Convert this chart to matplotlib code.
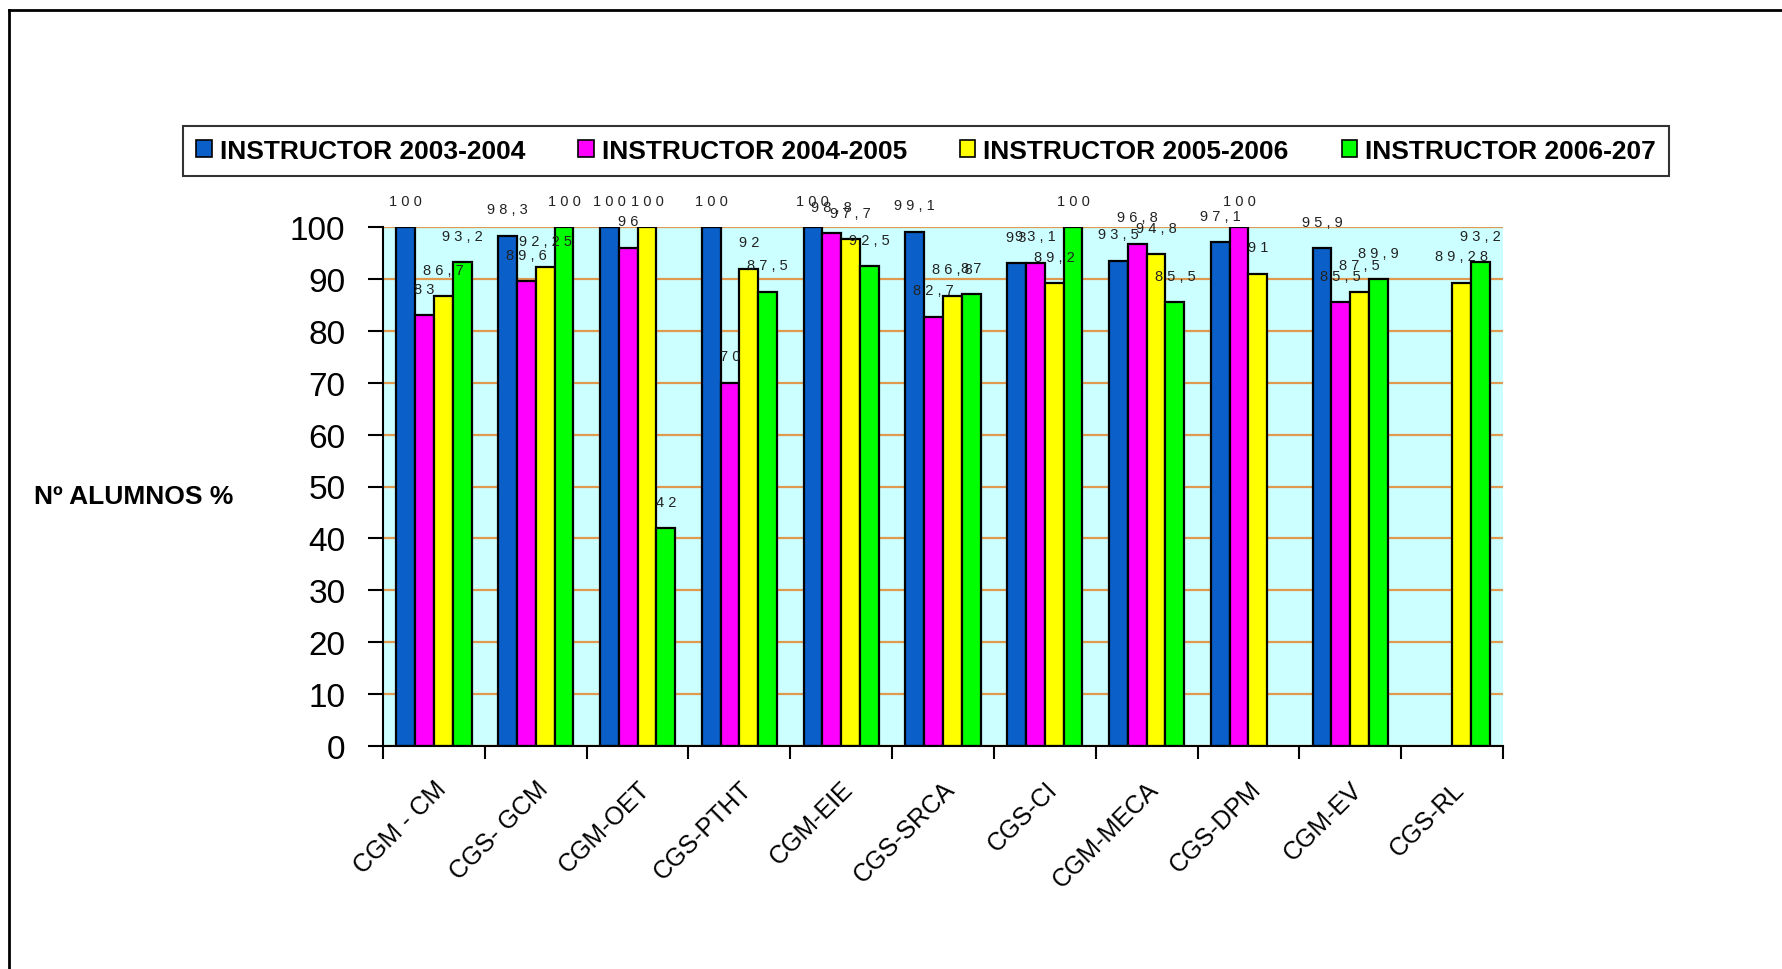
import matplotlib
matplotlib.use("Agg")
import matplotlib.pyplot as plt
import numpy as np
from matplotlib.lines import Line2D

categories = ["CGM - CM", "CGS- GCM", "CGM-OET", "CGS-PTHT", "CGM-EIE", "CGS-SRCA",
              "CGS-CI", "CGM-MECA", "CGS-DPM", "CGM-EV", "CGS-RL"]
series_names = ["INSTRUCTOR 2003-2004", "INSTRUCTOR 2004-2005",
                "INSTRUCTOR 2005-2006", "INSTRUCTOR 2006-207"]
s2003 = [100, 98.3, 100, 100, 100, 99.1, 93, 93.5, 97.1, 95.9, None]
s2004 = [83, 89.6, 96, 70, 98.8, 82.7, 93.1, 96.8, 100, 85.5, None]
s2005 = [86.7, 92.25, 100, 92, 97.7, 86.8, 89.2, 94.8, 91, 87.5, 89.28]
s2006 = [93.2, 100, 42, 87.5, 92.5, 87, 100, 85.5, None, 89.9, 93.2]
yticks = [0, 10, 20, 30, 40, 50, 60, 70, 80, 90, 100]

colors = ["#0A5FC8", "#FF00FF", "#FFFF00", "#00FF00"]
all_series = [s2003, s2004, s2005, s2006]

W, H = 1783, 970
fig = plt.figure(figsize=(W / 100, H / 100), dpi=100)
ax = fig.add_axes([383 / W, 1 - 747 / H, (1503 - 383) / W, (747 - 228) / H])
ax.set_facecolor("#CCFFFF")

label_font = ["Liberation Sans Narrow", "Liberation Sans", "DejaVu Sans"]
main_font = ["Liberation Sans", "DejaVu Sans"]

x = np.arange(len(categories))
bw = 0.185
for i, (vals, col) in enumerate(zip(all_series, colors)):
    xs = [xi + (i - 1.5) * bw for xi, v in zip(x, vals) if v is not None]
    vs = [v for v in vals if v is not None]
    ax.bar(xs, vs, width=bw, color=col, edgecolor="black", linewidth=1.6, zorder=3)
    for xx, v in zip(xs, vs):
        txt = ("%g" % v).replace(".", ",")
        txt = " ".join(txt)
        ax.annotate(txt, (xx, v), xytext=(0, 19), textcoords="offset points",
                    ha="center", va="center", fontsize=10.5, family=label_font,
                    color="#222222", zorder=5, annotation_clip=False)

ax.set_xlim(-0.5, len(categories) - 0.5)
ax.set_ylim(0, 100)
ax.set_yticks(yticks)
ax.set_yticklabels([str(t) for t in yticks], fontsize=24, family=main_font)
ax.yaxis.grid(True, color="#E09A50", linewidth=1.6, zorder=1)
ax.set_axisbelow(True)

ax.set_xticks(x)
ax.set_xticklabels(categories, rotation=45, ha="right", rotation_mode="anchor",
                   fontsize=18, family=main_font)
ax.set_xticks(np.arange(-0.5, len(categories)), minor=True)
ax.tick_params(axis="x", which="major", length=0, pad=22)
ax.tick_params(axis="x", which="minor", length=9, width=1.5, direction="out")
ax.tick_params(axis="y", length=11, width=1.5, direction="out", pad=16)

for s in ["top", "right"]:
    ax.spines[s].set_visible(False)
for s in ["left", "bottom"]:
    ax.spines[s].set_linewidth(1.5)
    ax.spines[s].set_zorder(4)

fig.text(34 / W, 1 - 497 / H, "Nº ALUMNOS %", fontsize=19, fontweight="bold",
         family=main_font, ha="left", va="center")

handles = [plt.Rectangle((0, 0), 1, 1, facecolor=c, edgecolor="black", linewidth=1.2)
           for c in colors]
leg = fig.legend(handles, series_names, loc="center",
                 bbox_to_anchor=((171 + 1681) / 2 / W, 1 - 152 / H),
                 ncol=4, frameon=True, fancybox=False, edgecolor="black",
                 prop={"family": label_font, "size": 19, "weight": "bold"},
                 handlelength=0.6, handleheight=0.6, handletextpad=0.3,
                 columnspacing=2.0, borderpad=0.5)
leg.get_frame().set_linewidth(1.5)

# outer frame
fig.add_artist(Line2D([9 / W, 9 / W], [0, 1 - 11 / H], transform=fig.transFigure,
                      color="black", linewidth=2))
fig.add_artist(Line2D([9 / W, 1], [1 - 11 / H, 1 - 11 / H], transform=fig.transFigure,
                      color="black", linewidth=2))

fig.savefig("out.png", dpi=100, facecolor="white")
